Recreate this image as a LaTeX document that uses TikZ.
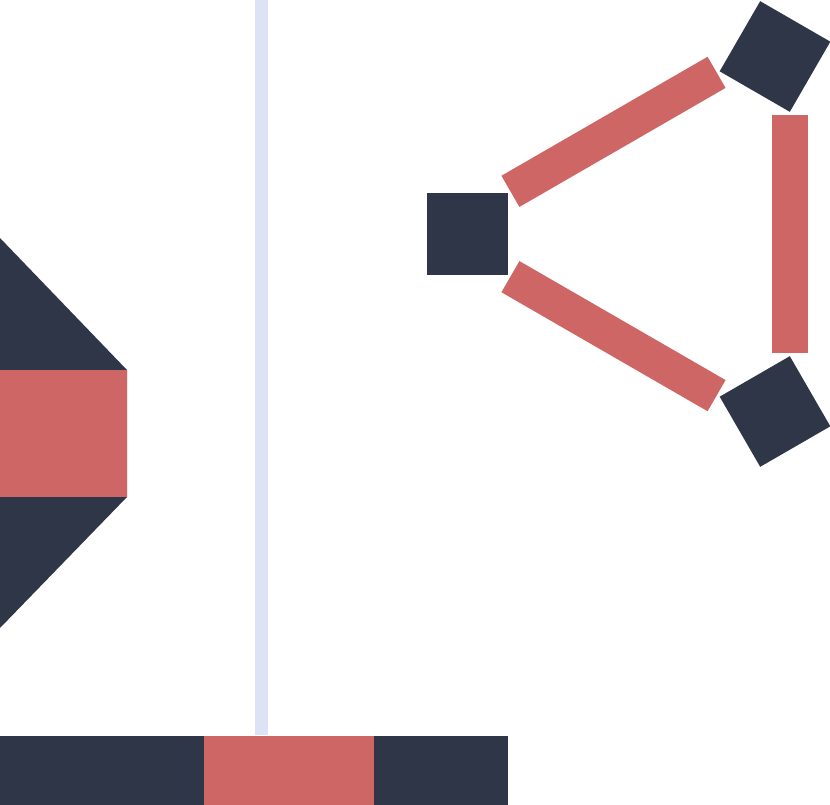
\documentclass[tikz,border=0pt]{standalone}
\usepackage{tikz}
\usepackage{xcolor}
\usetikzlibrary{positioning, calc}
\definecolor{Slate_Dark}{HTML}{2F3647}
\definecolor{Coral_Red}{HTML}{CF6666}
\definecolor{Pale_Blue}{HTML}{DDE3F4}

\begin{document}
\begin{tikzpicture}[
    x=1pt, y=-1pt,
    block/.style={fill=Slate_Dark, draw=none, minimum size=81pt, inner sep=0pt},
    bar/.style={draw=Coral_Red, line width=36pt, line cap=butt,
        shorten <=58.5pt, shorten >=58.5pt}
]
\useasboundingbox (0,0) rectangle (830,805);

% divider
\fill[Pale_Blue] (255,0) rectangle (268,735);

% left shape
\fill[Slate_Dark] (0,238) -- (127,370) -- (127,497) -- (0,628) -- cycle;
\fill[Coral_Red] (0,370) rectangle (127,497);

% bottom strip
\fill[Slate_Dark] (0,736) rectangle (204,805);
\fill[Coral_Red] (204,736) rectangle (374,805);
\fill[Slate_Dark] (374,736) rectangle (508,805);

% triangle of blocks
\node[block] (L) at (467.5,234) {};
\node[block, rotate=60] (T) at (775,56.5) {};
\node[block, rotate=30] (B) at (775,411.5) {};

% links
\draw[bar] ([shift={(-7.75,-13.4)}]L.center) -- ([shift={(-7.75,-13.4)}]T.center);
\draw[bar] ([shift={(15,0)}]T.center) -- ([shift={(15,0)}]B.center);
\draw[bar] ([shift={(-7.75,13.4)}]L.center) -- ([shift={(-7.75,13.4)}]B.center);

\end{tikzpicture}
\end{document}
